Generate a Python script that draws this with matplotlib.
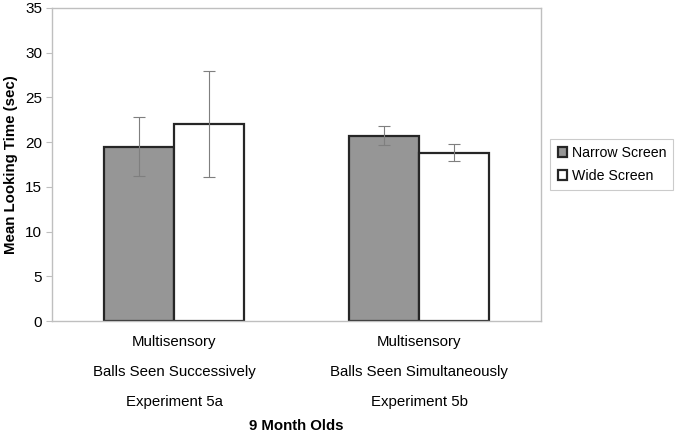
import numpy as np
import matplotlib.pyplot as plt

plt.rcParams['font.family'] = ['Liberation Sans', 'DejaVu Sans']

groups = ["Multisensory\n\nBalls Seen Successively\n\nExperiment 5a",
          "Multisensory\n\nBalls Seen Simultaneously\n\nExperiment 5b"]
series = ["Narrow Screen", "Wide Screen"]
narrow = [19.5, 20.7]
wide = [22.0, 18.8]
narrow_err = [3.25, 1.05]
wide_err = [5.9, 0.95]
yticks = [0, 5, 10, 15, 20, 25, 30, 35]

fig = plt.figure(figsize=(6.75, 4.38), dpi=100)
ax = fig.add_axes([0.077, 0.267, 0.725, 0.715])

x = np.arange(len(groups))
w = 1 / 3.5
ekw = dict(ecolor='#7f7f7f', elinewidth=0.8, capsize=4, capthick=0.8)
ax.bar(x - w / 2, narrow, w, color='#969696', edgecolor='#262626', linewidth=1.6,
       yerr=narrow_err, error_kw=ekw, label=series[0], zorder=2)
ax.bar(x + w / 2, wide, w, color='white', edgecolor='#262626', linewidth=1.6,
       yerr=wide_err, error_kw=ekw, label=series[1], zorder=2)

ax.set_xlim(-0.5, 1.5)
ax.set_ylim(0, 35)
ax.set_yticks(yticks)
ax.set_xticks(x)
ax.set_xticklabels(groups, fontsize=10.8, linespacing=1.1)
ax.tick_params(axis='x', length=0, pad=10)
ax.tick_params(axis='y', labelsize=11, length=4, color='#bfbfbf', pad=3)
for s in ax.spines.values():
    s.set_color('#bfbfbf')
    s.set_linewidth(1)

ax.set_ylabel("Mean Looking Time (sec)", fontsize=10.8, fontweight='bold', labelpad=5)
ax.set_xlabel("9 Month Olds", fontsize=10.8, fontweight='bold', labelpad=7)

leg = ax.legend(loc='center left', bbox_to_anchor=(1.01, 0.5), fontsize=10.2,
                frameon=True, fancybox=False, edgecolor='#bfbfbf',
                handlelength=0.7, handleheight=0.7, handletextpad=0.3,
                borderpad=0.5, borderaxespad=0.3, labelspacing=0.65)
leg.get_frame().set_linewidth(0.8)

fig.savefig("out.png", dpi=100)
